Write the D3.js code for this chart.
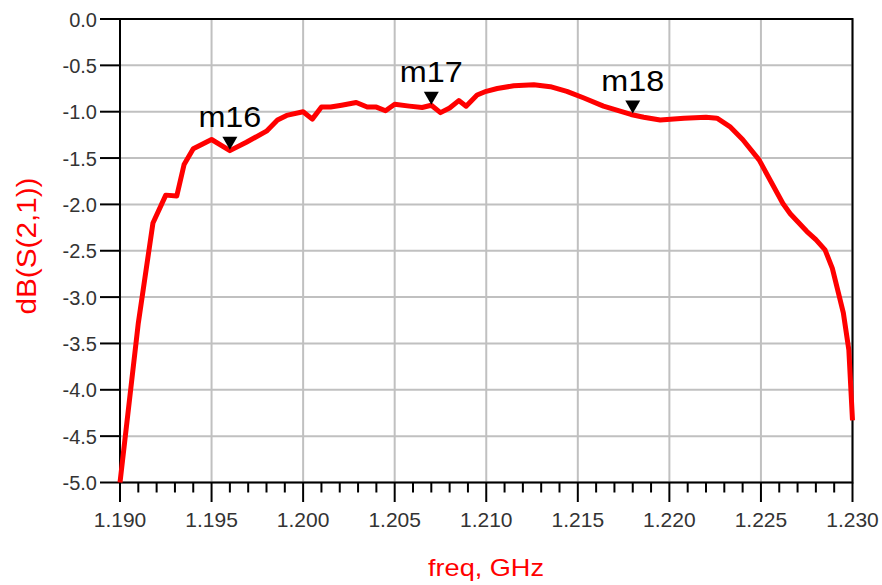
<!DOCTYPE html>
<html><head><meta charset="utf-8">
<script src="https://cdn.jsdelivr.net/npm/d3@7"></script>
<style>html,body{margin:0;padding:0;background:#fff;}svg{display:block;}</style>
</head><body>
<script>
// ---- data ----
const freq = [1.1900,1.1910,1.1918,1.1925,1.1931,1.1935,1.1940,1.1950,1.1960,1.1969,1.1980,1.1986,1.1991,1.2000,1.2005,1.2010,1.2015,1.2021,1.2029,1.2035,1.2040,1.2045,1.2050,1.2058,1.2065,1.2070,1.2075,1.2080,1.2085,1.2089,1.2095,1.2100,1.2106,1.2115,1.2126,1.2135,1.2144,1.2153,1.2164,1.2179,1.2186,1.2195,1.2208,1.2220,1.2226,1.2233,1.2240,1.2249,1.2262,1.2266,1.2275,1.2280,1.2285,1.2289,1.2295,1.2298,1.2300];
const s21 = [-5.00,-3.28,-2.20,-1.90,-1.91,-1.57,-1.40,-1.30,-1.42,-1.33,-1.21,-1.09,-1.04,-1.00,-1.08,-0.95,-0.95,-0.93,-0.90,-0.95,-0.95,-0.99,-0.92,-0.94,-0.955,-0.93,-1.01,-0.96,-0.88,-0.94,-0.82,-0.78,-0.75,-0.72,-0.71,-0.73,-0.78,-0.85,-0.94,-1.03,-1.06,-1.09,-1.07,-1.06,-1.07,-1.16,-1.30,-1.52,-1.99,-2.10,-2.29,-2.38,-2.49,-2.69,-3.17,-3.57,-4.33];
const markerNames = ["m16","m17","m18"];
const markerFreq = [1.196,1.207,1.218];
const markerVal = [-1.41,-0.925,-1.02];
const xTicks = [1.190,1.195,1.200,1.205,1.210,1.215,1.220,1.225,1.230];
const xTickLabels = ["1.190","1.195","1.200","1.205","1.210","1.215","1.220","1.225","1.230"];
const yTicks = [0,-0.5,-1,-1.5,-2,-2.5,-3,-3.5,-4,-4.5,-5];
const yTickLabels = ["0.0","-0.5","-1.0","-1.5","-2.0","-2.5","-3.0","-3.5","-4.0","-4.5","-5.0"];

const W = 882, H = 585;
const L = 120, R = 852.5, T = 19, B = 482.5;
const x = d3.scaleLinear().domain([1.19,1.23]).range([L,R]);
const y = d3.scaleLinear().domain([-5,0]).range([B,T]);

const svg = d3.select("body").append("svg").attr("width",W).attr("height",H);
const font = "'Liberation Sans', Arial, sans-serif";

// grid
svg.append("g").selectAll("line").data(xTicks).join("line")
  .attr("x1",d=>x(d)).attr("x2",d=>x(d)).attr("y1",T).attr("y2",B)
  .attr("stroke","#c0c0c0").attr("stroke-width",2);
svg.append("g").selectAll("line").data(yTicks).join("line")
  .attr("x1",L).attr("x2",R).attr("y1",d=>y(d)).attr("y2",d=>y(d))
  .attr("stroke","#c0c0c0").attr("stroke-width",2);

// frame
svg.append("rect").attr("x",L).attr("y",T).attr("width",R-L).attr("height",B-T)
  .attr("fill","none").attr("stroke","#000").attr("stroke-width",2);

// x axis ticks (major + minor)
const minor = d3.range(0,41).map(i=>1.19+i*0.001);
svg.append("g").selectAll("line").data(minor).join("line")
  .attr("x1",d=>x(d)).attr("x2",d=>x(d)).attr("y1",B)
  .attr("y2",(d,i)=> i%5===0 ? B+19.5 : B+10)
  .attr("stroke","#000").attr("stroke-width",2);
svg.append("g").selectAll("text").data(xTicks).join("text")
  .attr("x",d=>x(d)).attr("y",527).attr("text-anchor","middle")
  .attr("font-family",font).attr("font-size",21).attr("fill","#333")
  .text((d,i)=>xTickLabels[i]);

// y axis ticks
svg.append("g").selectAll("line").data(yTicks).join("line")
  .attr("x1",L-20).attr("x2",L).attr("y1",d=>y(d)).attr("y2",d=>y(d))
  .attr("stroke","#000").attr("stroke-width",2);
svg.append("g").selectAll("text").data(yTicks).join("text")
  .attr("x",97).attr("y",d=>y(d)+7.5).attr("text-anchor","end")
  .attr("font-family",font).attr("font-size",20).attr("fill","#333")
  .text((d,i)=>yTickLabels[i]);

// axis titles
svg.append("text").attr("x",486).attr("y",576).attr("text-anchor","middle")
  .attr("font-family",font).attr("font-size",24).attr("fill","#ff0000")
  .attr("textLength",116).attr("lengthAdjust","spacingAndGlyphs")
  .text("freq, GHz");
svg.append("text").attr("transform","translate(36,246) rotate(-90)")
  .attr("text-anchor","middle")
  .attr("font-family",font).attr("font-size",28).attr("fill","#ff0000")
  .attr("textLength",137).attr("lengthAdjust","spacingAndGlyphs")
  .text("dB(S(2,1))");

// curve
const pts = freq.map((f,i)=>[f,s21[i]]);
svg.append("path").datum(pts)
  .attr("d",d3.line().x(d=>x(d[0])).y(d=>y(d[1])))
  .attr("fill","none").attr("stroke","#ff0000").attr("stroke-width",5)
  .attr("stroke-linejoin","round").attr("stroke-linecap","butt");

// markers
const mk = svg.append("g");
markerNames.forEach((n,i)=>{
  const mx = x(markerFreq[i]), my = y(markerVal[i]);
  mk.append("path").attr("d",`M${mx-7.5},${my-13}L${mx+7.5},${my-13}L${mx},${my}Z`).attr("fill","#000");
  mk.append("text").attr("x",mx).attr("y",my-23).attr("text-anchor","middle")
    .attr("font-family",font).attr("font-size",30).attr("fill","#000")
    .attr("textLength",63).attr("lengthAdjust","spacingAndGlyphs")
    .text(n);
});
</script>
</body></html>
